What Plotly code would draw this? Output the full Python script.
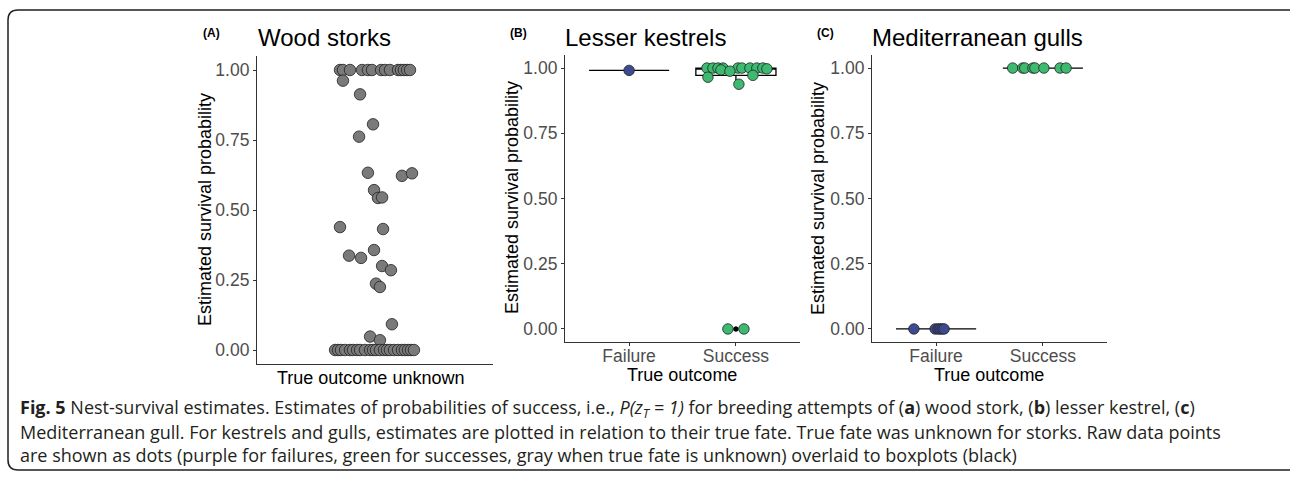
import numpy as np
import plotly.graph_objects as go

W, H = 1290, 479

# ---------------- data ----------------
# Panel A: wood storks, true outcome unknown
stork_prob = [1.0] * 14 + [0.962, 0.913, 0.806, 0.762, 0.633, 0.622, 0.631, 0.571, 0.543, 0.545,
                            0.439, 0.432, 0.357, 0.337, 0.329, 0.300, 0.285, 0.237, 0.225, 0.092,
                            0.048, 0.035] + [0.0] * 23
stork_jitter = [-0.178, -0.163, -0.127, -0.066, -0.036, -0.015, 0.031, 0.051, 0.076, 0.117, 0.132, 0.147, 0.163, 0.178,
                -0.163, -0.076, -0.010, -0.081, -0.036, 0.137, 0.188, -0.005, 0.015, 0.036,
                -0.178, 0.041, -0.005, -0.132, -0.071, 0.036, 0.081, 0.005, 0.025, 0.086,
                -0.025, 0.025,
                -0.203, -0.188, -0.173, -0.152, -0.127, -0.112, -0.091, -0.076, -0.051, -0.025, -0.010,
                0.005, 0.025, 0.046, 0.061, 0.076, 0.097, 0.117, 0.137, 0.152, 0.168, 0.183, 0.198]

# Panel B: lesser kestrels
kestrel_fail = [0.991]
kestrel_fail_jitter = [0.0]
kestrel_succ = [1.0] * 9 + [0.997, 0.993, 0.988, 0.972, 0.965, 0.938, 0.0, 0.0]
kestrel_succ_jitter = [-0.271, -0.215, -0.168, -0.121, 0.019, 0.056, 0.131, 0.196, 0.252,
                       0.290, -0.140, -0.056, 0.159, -0.262, 0.028, -0.075, 0.075]

# Panel C: Mediterranean gulls
gull_fail = [0.0] * 6
gull_fail_jitter = [-0.208, -0.009, 0.019, 0.038, 0.057, 0.075]
gull_succ = [1.0] * 8
gull_succ_jitter = [-0.283, -0.189, -0.170, -0.094, -0.075, 0.009, 0.160, 0.217]

categories = ["Failure", "Success"]
y_ticks = [0.0, 0.25, 0.5, 0.75, 1.0]
y_ticktext = ["0.00", "0.25", "0.50", "0.75", "1.00"]

COL_FAIL = "#3d4a8f"
COL_SUCC = "#3dba6f"
COL_UNK = "#7a7a7a"

# ---------------- helpers (layout) ----------------
def px(x):
    return x / W

def py(y):
    return 1 - y / H

fig = go.Figure()

def box_stats(vals):
    v = np.asarray(vals, float)
    q1, med, q3 = np.percentile(v, [25, 50, 75])
    iqr = q3 - q1
    lo_lim, hi_lim = q1 - 1.5 * iqr, q3 + 1.5 * iqr
    inside = v[(v >= lo_lim) & (v <= hi_lim)]
    out = v[(v < lo_lim) | (v > hi_lim)]
    return q1, med, q3, inside.min(), inside.max(), out

def add_box(vals, pos, xa, ya):
    q1, med, q3, lf, uf, out = box_stats(vals)
    fig.add_trace(go.Box(x=[pos], q1=[q1], median=[med], q3=[q3], lowerfence=[lf], upperfence=[uf],
                         width=0.75, whiskerwidth=0, fillcolor="white",
                         line=dict(color="black", width=1.3), boxpoints=False,
                         xaxis=xa, yaxis=ya, showlegend=False, hoverinfo="skip"))
    if len(out):
        fig.add_trace(go.Scatter(x=[pos] * len(out), y=list(out), mode="markers",
                                 marker=dict(color="black", size=5),
                                 xaxis=xa, yaxis=ya, showlegend=False, hoverinfo="skip"))

def add_points(vals, jit, pos, color, size, xa, ya):
    fig.add_trace(go.Scatter(x=[pos + j for j in jit], y=vals, mode="markers",
                             marker=dict(color=color, size=size,
                                         line=dict(color="#222222", width=0.8)),
                             xaxis=xa, yaxis=ya, showlegend=False, hoverinfo="skip"))

# Panel A
add_points(stork_prob, stork_jitter, 1, COL_UNK, 11.5, "x", "y")
# Panel B
add_box(kestrel_fail, 1, "x2", "y2")
add_box(kestrel_succ, 2, "x2", "y2")
add_points(kestrel_fail, kestrel_fail_jitter, 1, COL_FAIL, 10.5, "x2", "y2")
add_points(kestrel_succ, kestrel_succ_jitter, 2, COL_SUCC, 10.5, "x2", "y2")
# Panel C
add_box(gull_fail, 1, "x3", "y3")
add_box(gull_succ, 2, "x3", "y3")
add_points(gull_fail, gull_fail_jitter, 1, COL_FAIL, 10.5, "x3", "y3")
add_points(gull_succ, gull_succ_jitter, 2, COL_SUCC, 10.5, "x3", "y3")

FONT = "Liberation Sans, Arial, sans-serif"
tickfont = dict(family=FONT, size=17.5, color="#4d4d4d")

def yaxis_common(domain, anchor):
    return dict(domain=domain, anchor=anchor, range=[-0.05, 1.05], showgrid=False, zeroline=False,
                showline=True, linecolor="#333333", linewidth=1.2, ticks="outside", ticklen=3,
                tickcolor="#333333", tickvals=y_ticks, ticktext=y_ticktext, tickfont=tickfont)

def xaxis_common(domain, anchor, rng, labels):
    d = dict(domain=domain, anchor=anchor, range=rng, showgrid=False, zeroline=False,
             showline=True, linecolor="#333333", linewidth=1.2, tickfont=tickfont)
    if labels:
        d.update(ticks="outside", ticklen=3, tickcolor="#333333", ticklabelstandoff=-5,
                 tickvals=list(range(1, len(labels) + 1)), ticktext=labels)
    else:
        d.update(showticklabels=False, ticks="")
    return d

A_dom = [px(257), px(493)]
B_dom = [px(565), px(800)]
C_dom = [px(872), px(1107)]
A_ydom = [py(364), py(56)]
BC_ydom = [py(342), py(55)]

fig.update_layout(
    width=W, height=H, margin=dict(l=0, r=0, t=0, b=0),
    paper_bgcolor="white", plot_bgcolor="white",
    xaxis=xaxis_common(A_dom, "y", [0.4, 1.6], None),
    yaxis=yaxis_common(A_ydom, "x"),
    xaxis2=xaxis_common(B_dom, "y2", [0.4, 2.6], categories),
    yaxis2=yaxis_common(BC_ydom, "x2"),
    xaxis3=xaxis_common(C_dom, "y3", [0.4, 2.6], categories),
    yaxis3=yaxis_common(BC_ydom, "x3"),
)

ann = []
def text(x, y, s, size, color="black", bold=False, angle=0, xanchor="center", family=FONT):
    ann.append(dict(x=px(x), y=py(y), xref="paper", yref="paper", text=(f"<b>{s}</b>" if bold else s),
                    showarrow=False, xanchor=xanchor, yanchor="middle", textangle=angle,
                    font=dict(family=family, size=size, color=color)))

# Titles (left aligned)
text(256, 37, "Wood storks", 24, xanchor="left")
text(563, 37, "Lesser kestrels", 24, xanchor="left")
text(870, 37, "Mediterranean gulls", 24, xanchor="left")
text(211, 33, "(A)", 12, bold=True)
text(518, 33, "(B)", 12, bold=True)
text(825, 33, "(C)", 12, bold=True)
# Axis titles
text(205, 210, "Estimated survival probability", 18, angle=-90)
text(512, 198, "Estimated survival probability", 18, angle=-90)
text(818, 198, "Estimated survival probability", 18, angle=-90)
text(370, 378, "True outcome unknown", 18)
text(682, 375, "True outcome", 18)
text(989, 375, "True outcome", 18)

# Caption
CAP = "Open Sans, Lato, sans-serif"
capc = "#231f20"
cap_lines = [
    "<b>Fig. 5</b> Nest-survival estimates. Estimates of probabilities of success, i.e., <i>P(z<sub>T</sub> = 1)</i> for breeding attempts of (<b>a</b>) wood stork, (<b>b</b>) lesser kestrel, (<b>c</b>)",
    "Mediterranean gull. For kestrels and gulls, estimates are plotted in relation to their true fate. True fate was unknown for storks. Raw data points",
    "are shown as dots (purple for failures, green for successes, gray when true fate is unknown) overlaid to boxplots (black)",
]
for i, line in enumerate(cap_lines):
    text(18, 408 + 23.5 * i, line, 18, color=capc, xanchor="left", family=CAP)

fig.update_layout(annotations=ann)

# Rounded frame
r = 10
x0, y0, x1, y1 = 8, 10, 1300, 470
path = (f"M {px(x0)},{py(y0 + r)} Q {px(x0)},{py(y0)} {px(x0 + r)},{py(y0)} "
        f"L {px(x1 - r)},{py(y0)} Q {px(x1)},{py(y0)} {px(x1)},{py(y0 + r)} "
        f"L {px(x1)},{py(y1 - r)} Q {px(x1)},{py(y1)} {px(x1 - r)},{py(y1)} "
        f"L {px(x0 + r)},{py(y1)} Q {px(x0)},{py(y1)} {px(x0)},{py(y1 - r)} Z")
fig.add_shape(type="path", path=path, xref="paper", yref="paper",
              line=dict(color="#231f20", width=1.5), fillcolor="rgba(0,0,0,0)")

fig.write_html("out.html", config={"displayModeBar": False},
               post_script="document.body.style.margin='0';document.body.style.overflow='hidden';")
